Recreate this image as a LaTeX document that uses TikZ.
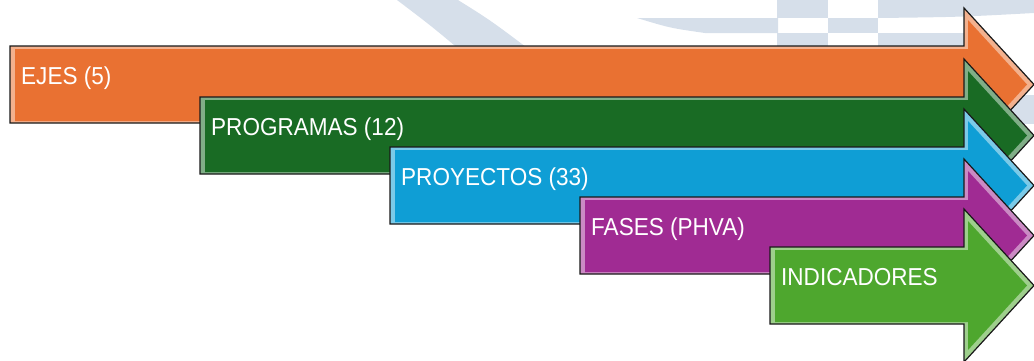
\documentclass[tikz,border=0pt]{standalone}
\usepackage{fontspec}
\newfontfamily\lblfont[FakeStretch=0.92]{Liberation Sans}

\definecolor{ejescol}{HTML}{E97132}
\definecolor{progcol}{HTML}{196B24}
\definecolor{proycol}{HTML}{0F9ED5}
\definecolor{fasecol}{HTML}{A02B93}
\definecolor{indicol}{HTML}{4EA72E}
\definecolor{wmark}{HTML}{D6DFEA}

% arrow: left x, top y, colour
\newcommand\pharrow[3]{%
  \filldraw[fill=#3!55!white, draw=black!90, line width=1.2pt]
    (#1,#2) -- (964,#2) -- (964,#2-38) -- (1034,#2+38.5) -- (964,#2+115) -- (964,#2+77) -- (#1,#2+77) -- cycle;
  \fill[#3] (#1+5,#2+3) -- (968,#2+3) -- (968,#2-26) -- (1027,#2+38.5) -- (968,#2+103) -- (968,#2+75) -- (#1+5,#2+75) -- cycle;
}

\begin{document}
\begin{tikzpicture}[x=1pt, y=-1pt,
  lbl/.style={anchor=base west, inner sep=0pt, text=white, font=\lblfont\fontsize{24.5}{29}\selectfont}]
\useasboundingbox (0,0) rectangle (1034,360);

% watermark in the back
\fill[wmark] (397,0) -- (458,0) .. controls (490,20) .. (530,50) -- (460,50) .. controls (430,25) .. (397,0) -- cycle;
\fill[wmark] (637,18) -- (778,18) -- (778,33) -- (705,33) .. controls (670,28) .. (637,18) -- cycle;
\fill[wmark] (777,0) rectangle (828,18);
\fill[wmark] (828,18) rectangle (878,33);
\fill[wmark] (777,33) rectangle (828,50);
\fill[wmark] (878,33) rectangle (964,50);
\fill[wmark] (878,0) -- (1034,0) -- (1034,13) .. controls (960,17) .. (878,18) -- cycle;
\fill[wmark] (1000,95) rectangle (1034,124);

\pharrow{10}{46}{ejescol}
\node[lbl] (ejes) at (21,84) {EJES (5)};

\pharrow{200}{97}{progcol}
\node[lbl] (prog) at (211,135) {PROGRAMAS (12)};

\pharrow{390}{147}{proycol}
\node[lbl] (proy) at (401,185) {PROYECTOS (33)};

\pharrow{580}{197}{fasecol}
\node[lbl] (fases) at (591,235) {FASES (PHVA)};

\pharrow{770}{247}{indicol}
\node[lbl] (indic) at (781,285) {INDICADORES};
\end{tikzpicture}
\end{document}
